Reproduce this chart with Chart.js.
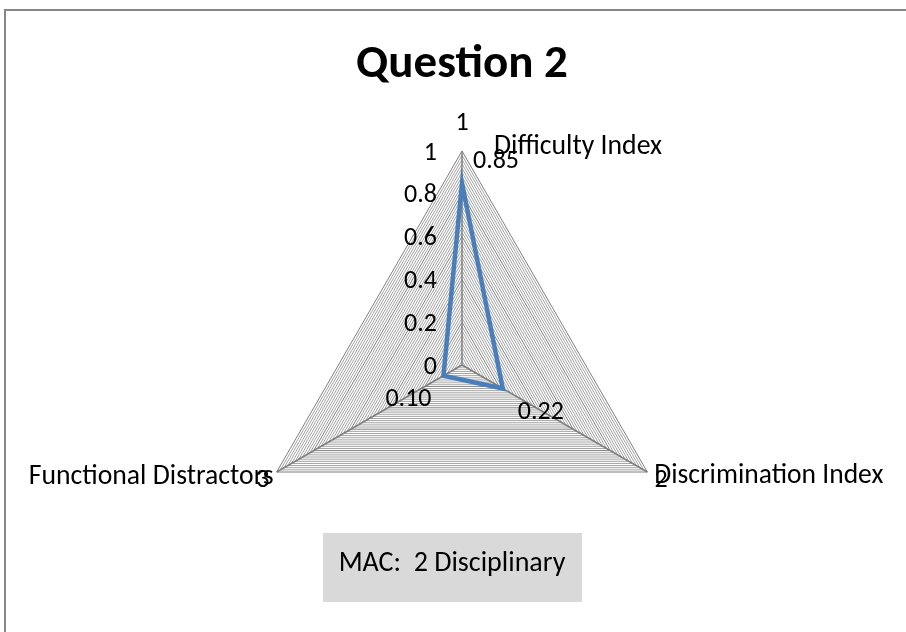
<!DOCTYPE html>
<html>
<head>
<meta charset="utf-8">
<script src="https://cdn.jsdelivr.net/npm/chart.js@4.4.1/dist/chart.umd.min.js"></script>
<style>
  html, body { margin: 0; padding: 0; background: #fff; }
  #wrap { width: 906px; height: 632px; }
</style>
</head>
<body>
<div id="wrap"><canvas id="radarChart" width="906" height="632"></canvas></div>
<script>
// chart data
const categories = ['1', '2', '3'];
const axisNames = ['Difficulty Index', 'Discrimination Index', 'Functional Distractors'];
const seriesName = 'MAC:  2 Disciplinary';
const seriesValues = [0.85, 0.22, 0.10];
const valueLabels = ['0.85', '0.22', '0.10'];
const tickLabels = ['0', '0.2', '0.4', '0.6', '0.8', '1'];

const FONT = "Carlito, Lato, 'Open Sans', sans-serif";
const isMajor = v => Math.abs(v * 5 - Math.round(v * 5)) < 1e-6;

// draws the excel-style extras: frame, tick labels, category numbers, text boxes, data labels, legend box
const excelLook = {
  id: 'excelLook',
  beforeDraw(chart) {
    const ctx = chart.ctx;
    ctx.save();
    ctx.strokeStyle = '#878787';
    ctx.lineWidth = 2;
    ctx.strokeRect(5, 10, 1000, 1000);
    ctx.restore();
  },
  afterDraw(chart) {
    const ctx = chart.ctx;
    const r = chart.scales.r;
    ctx.save();
    ctx.fillStyle = '#000';
    ctx.textBaseline = 'middle';

    // value axis labels, left of the vertical spoke
    ctx.font = '26px ' + FONT;
    ctx.textAlign = 'right';
    tickLabels.forEach(t => {
      const p = r.getPointPositionForValue(0, parseFloat(t));
      ctx.fillText(t, p.x - 25, p.y + 2);
    });

    // category labels (1, 2, 3)
    ctx.textAlign = 'center';
    const catOffsets = [28, 16, 16];
    categories.forEach((c, i) => {
      const p = r.getPointPosition(i, r.drawingArea + catOffsets[i]);
      ctx.fillText(c, p.x, p.y);
    });

    // text boxes naming each axis
    ctx.font = '28px ' + FONT;
    const v0 = r.getPointPosition(0, r.drawingArea);
    const v1 = r.getPointPosition(1, r.drawingArea);
    const v2 = r.getPointPosition(2, r.drawingArea);
    ctx.textAlign = 'left';
    ctx.fillText(axisNames[0], v0.x + 32, v0.y - 4, 168);
    ctx.fillText(axisNames[1], v1.x + 7, v1.y + 4, 229);
    ctx.textAlign = 'right';
    ctx.fillText(axisNames[2], v2.x - 3, v2.y + 5, 245);

    // data labels
    ctx.font = '26px ' + FONT;
    ctx.textAlign = 'center';
    const lblOffsets = [[34, -22], [38, 24], [-35, 24]];
    seriesValues.forEach((v, i) => {
      const p = r.getPointPositionForValue(i, v);
      ctx.fillText(valueLabels[i], p.x + lblOffsets[i][0], p.y + lblOffsets[i][1]);
    });

    // legend box
    ctx.fillStyle = '#d9d9d9';
    ctx.fillRect(323, 533, 259, 69);
    ctx.fillStyle = '#000';
    ctx.font = '28px ' + FONT;
    ctx.fillText(seriesName, 452, 564, 228);
    ctx.restore();
  }
};

new Chart(document.getElementById('radarChart'), {
  type: 'radar',
  data: {
    labels: categories,
    datasets: [{
      label: seriesName,
      data: seriesValues,
      borderColor: '#4a7ebb',
      borderWidth: 4.5,
      backgroundColor: 'rgba(0,0,0,0)',
      fill: false,
      pointRadius: 0,
      pointHoverRadius: 0
    }]
  },
  options: {
    responsive: false,
    animation: false,
    layout: { padding: { left: 32, right: 14, top: 0, bottom: 52 } },
    plugins: {
      legend: { display: false },
      tooltip: { enabled: false },
      title: {
        display: true,
        text: 'Question 2',
        color: '#000',
        font: { family: FONT, size: 47, weight: 'bold', lineHeight: 1.2 },
        padding: { top: 37, bottom: 57 }
      }
    },
    scales: {
      r: {
        min: 0,
        max: 1,
        ticks: { stepSize: 0.02, display: false },
        grid: {
          color: c => isMajor(c.tick.value) ? '#7f7f7f' : '#a3a3a3',
          lineWidth: 1
        },
        angleLines: { color: '#7f7f7f', lineWidth: 1.5 },
        pointLabels: { display: false }
      }
    }
  },
  plugins: [excelLook]
});
</script>
</body>
</html>
